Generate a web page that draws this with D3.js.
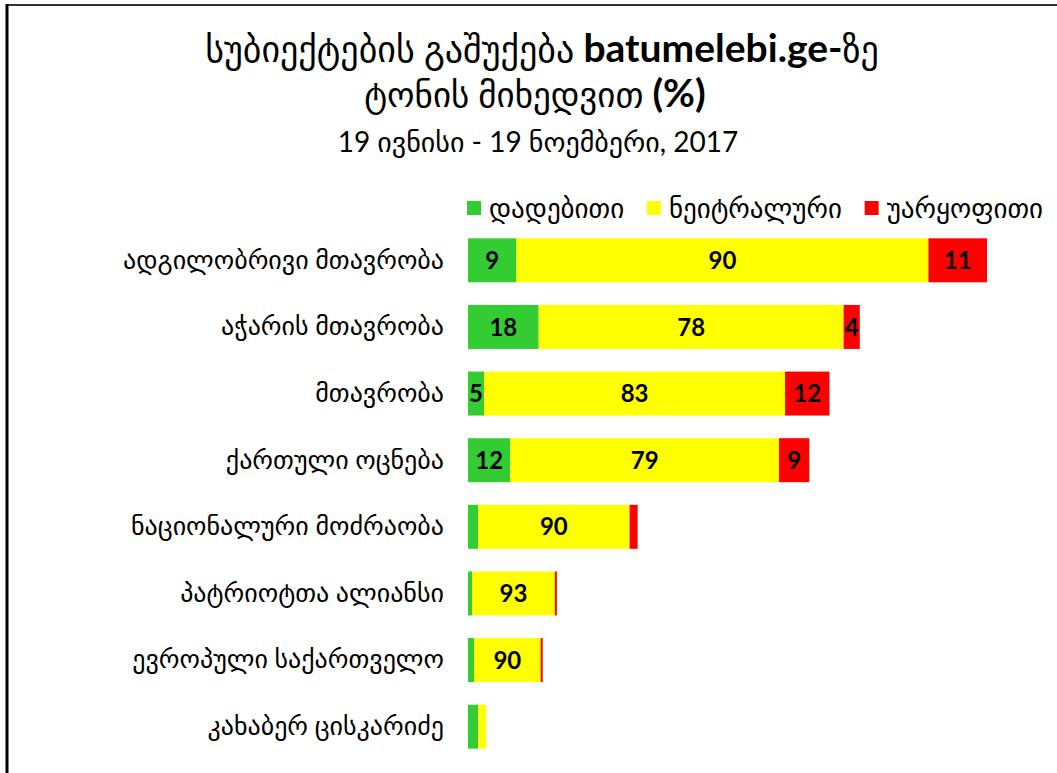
<!DOCTYPE html>
<html>
<head>
<meta charset="utf-8">
<script src="https://cdn.jsdelivr.net/npm/d3@7"></script>
<style>
  body { margin: 0; background: #fff; }
  svg { display: block; font-family: Lato, "DejaVu Sans", sans-serif; }
</style>
</head>
<body>
<div id="chart"></div>
<script>
// subjects (top to bottom)
const categories = [
    "ადგილობრივი მთავრობა",
    "აჭარის მთავრობა",
    "მთავრობა",
    "ქართული ოცნება",
    "ნაციონალური მოძრაობა",
    "პატრიოტთა ალიანსი",
    "ევროპული საქართველო",
    "კახაბერ ცისკარიძე"
];

// bar lengths (number of items per tone)
const positive = [24, 35, 8, 21, 5, 2, 3, 5];
const neutral  = [204, 151, 149, 133, 75, 41, 33, 4];
const negative = [29, 8, 22, 15, 4, 1, 1, 0];

// percentage labels printed on the bars ("" = not shown)
const positiveLabels = ["9", "18", "5", "12", "", "", "", ""];
const neutralLabels  = ["90", "78", "83", "79", "90", "93", "90", ""];
const negativeLabels = ["11", "4", "12", "9", "", "", "", ""];

const seriesNames = ["დადებითი", "ნეიტრალური", "უარყოფითი"];
const colors = ["#33cc33", "#ffff00", "#ff0000"];

const W = 1057, H = 773;

const svg = d3.select("#chart").append("svg")
    .attr("width", W)
    .attr("height", H);

// frame
svg.append("line").attr("x1", 6).attr("x2", W).attr("y1", 5).attr("y2", 5)
    .attr("stroke", "#333").attr("stroke-width", 2);
svg.append("line").attr("x1", 7).attr("x2", 7).attr("y1", 4).attr("y2", H)
    .attr("stroke", "#000").attr("stroke-width", 3);

// title
const t1 = svg.append("text").attr("x", 542).attr("y", 62)
    .attr("text-anchor", "middle").style("font-size", "36px");
t1.append("tspan").text("სუბიექტების გაშუქება ");
t1.append("tspan").style("font-weight", "bold").style("font-size", "39px").text("batumelebi.ge-");
t1.append("tspan").text("ზე");

const t2 = svg.append("text").attr("x", 535).attr("y", 107)
    .attr("text-anchor", "middle").style("font-size", "35px");
t2.append("tspan").text("ტონის მიხედვით ");
t2.append("tspan").style("font-weight", "bold").style("font-size", "39px").text("(%)");

svg.append("text").attr("x", 538).attr("y", 152)
    .attr("text-anchor", "middle").style("font-size", "28px")
    .text("19 ივნისი - 19 ნოემბერი, 2017");

const table = categories.map((c, i) => ({
    name: c,
    pos: positive[i], neu: neutral[i], neg: negative[i],
    labels: [positiveLabels[i], neutralLabels[i], negativeLabels[i]]
}));

const keys = ["pos", "neu", "neg"];
const stack = d3.stack().keys(keys)(table);

const x = d3.scaleLinear()
    .domain([0, d3.max(table, d => d.pos + d.neu + d.neg)])
    .range([468, 987]);

const y = d3.scaleBand()
    .domain(categories)
    .range([227, 760])
    .paddingInner(0.34)
    .paddingOuter(0.17);

const layers = svg.selectAll("g.layer")
    .data(stack)
    .join("g")
    .attr("class", "layer")
    .attr("fill", (d, i) => colors[i]);

layers.selectAll("rect")
    .data(d => d)
    .join("rect")
    .attr("x", d => x(d[0]))
    .attr("y", d => y(d.data.name))
    .attr("width", d => x(d[1]) - x(d[0]))
    .attr("height", y.bandwidth());

// value labels
stack.forEach((layer, k) => {
    svg.append("g").selectAll("text")
        .data(layer.filter(d => d.data.labels[k] !== ""))
        .join("text")
        .attr("x", d => (x(d[0]) + x(d[1])) / 2)
        .attr("y", d => y(d.data.name) + y.bandwidth() / 2)
        .attr("dy", "0.36em")
        .attr("text-anchor", "middle")
        .style("font-size", "24px")
        .style("font-weight", "bold")
        .attr("fill", "#000")
        .text(d => d.data.labels[k]);
});

// category axis
const yAxis = d3.axisLeft(y).tickSize(0).tickPadding(0);
const gy = svg.append("g")
    .attr("transform", "translate(444,0)")
    .call(yAxis);
gy.select(".domain").remove();
gy.selectAll("text")
    .style("font-family", "Lato, 'DejaVu Sans', sans-serif")
    .style("font-size", "26px")
    .attr("fill", "#000");

// legend: spread the three entries between x=467 and x=1043
const legend = svg.append("g").selectAll("g")
    .data(seriesNames)
    .join("g");
legend.append("rect")
    .attr("width", 14).attr("height", 14)
    .attr("fill", (d, i) => colors[i]);
legend.append("text")
    .attr("x", 22).attr("y", 7).attr("dy", "0.36em")
    .style("font-size", "27px")
    .text(d => d);

const widths = [];
legend.each(function() { widths.push(this.getBBox().width); });
const gap = (1043 - 467 - d3.sum(widths)) / (widths.length - 1);
let lx = 467;
legend.attr("transform", (d, i) => {
    const t = "translate(" + lx + ",201)";
    lx += widths[i] + gap;
    return t;
});
</script>
</body>
</html>
